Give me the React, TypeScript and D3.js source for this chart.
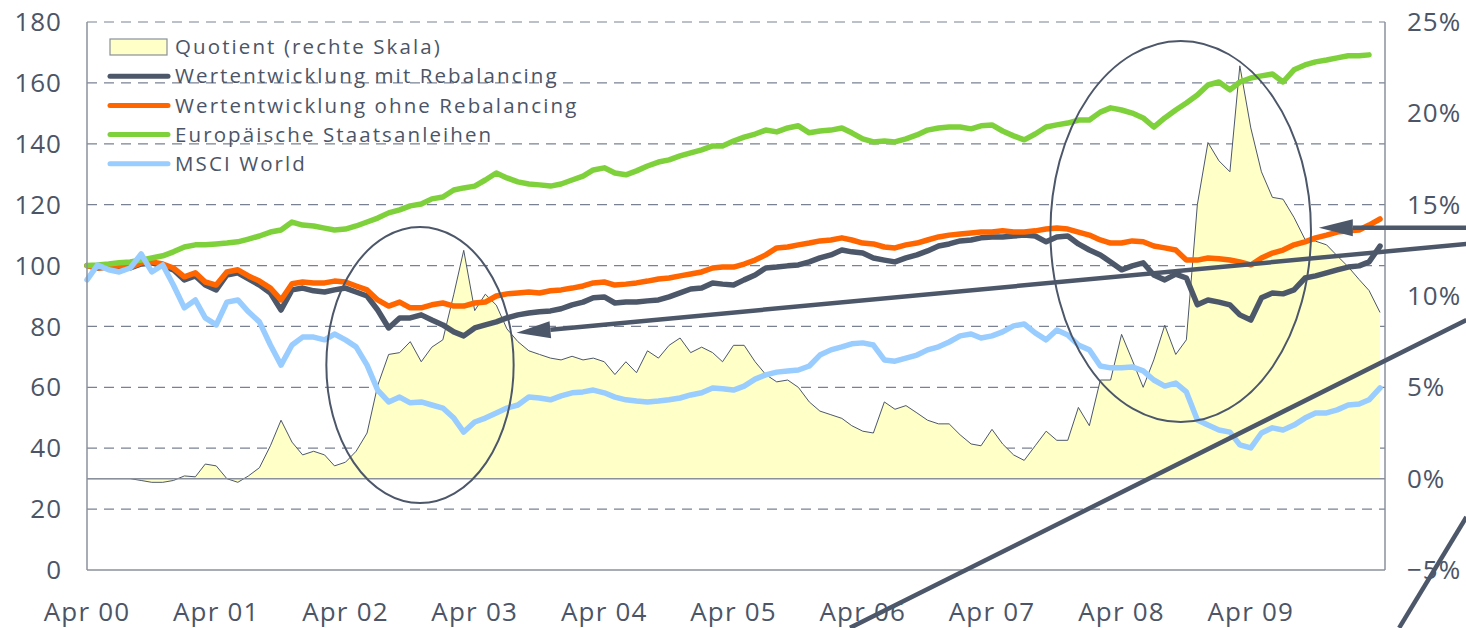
import React from "react";
import * as d3 from "d3";

// monthly observations, Apr 2000 .. Apr 2010
const months = d3.timeMonth.range(new Date(2000, 3, 1), new Date(2010, 4, 1));

const yearTicks = d3.range(2000, 2010).map((y) => new Date(y, 3, 1));
const yearLabels = ["Apr 00", "Apr 01", "Apr 02", "Apr 03", "Apr 04", "Apr 05", "Apr 06", "Apr 07", "Apr 08", "Apr 09"];
const leftTicks = [0, 20, 40, 60, 80, 100, 120, 140, 160, 180];
const rightTicks = [-5, 0, 5, 10, 15, 20, 25];

// Quotient (rechte Skala), in %
const quotient = [
  0.0, 0.0, 0.0, 0.0, 0.0, -0.1, -0.2, -0.2, -0.1, 0.15, 0.1, 0.8, 0.7, 0.0, -0.2, 0.15, 0.6, 1.8, 3.2, 2.0,
  1.3, 1.5, 1.3, 0.7, 0.9, 1.5, 2.5, 5.1, 6.8, 6.9, 7.5, 6.4, 7.2, 7.6, 10.1, 12.5, 9.2, 10.1, 9.5, 8.2,
  7.5, 7.0, 6.8, 6.6, 6.5, 6.7, 6.5, 6.6, 6.4, 5.7, 6.4, 5.8, 7.0, 6.6, 7.3, 7.7, 6.9, 7.2, 6.9, 6.4,
  7.3, 7.3, 6.4, 5.7, 5.3, 5.4, 5.0, 4.2, 3.7, 3.5, 3.3, 2.9, 2.6, 2.5, 4.2, 3.8, 4.0, 3.6, 3.2, 3.0,
  3.0, 2.4, 1.9, 1.8, 2.7, 1.9, 1.3, 1.0, 1.8, 2.6, 2.1, 2.1, 3.9, 2.9, 5.4, 5.4, 7.9, 6.5, 5.0, 6.5,
  8.4, 6.8, 7.6, 15.0, 18.4, 17.4, 16.8, 22.6, 19.2, 16.8, 15.4, 15.3, 14.3, 13.1, 13.0, 12.8, 12.2, 11.6, 10.9, 10.3,
  9.1,
];

// Wertentwicklung mit Rebalancing
const mitRebalancing = [
  100.0, 99.2, 99.5, 99.5, 99.2, 100.5, 100.9, 99.9, 98.6, 95.3, 96.6, 93.6, 92.0, 96.9, 97.6, 95.6, 93.6, 91.0, 85.4, 92.0,
  92.6, 91.7, 91.3, 92.0, 92.6, 91.3, 90.0, 85.4, 79.5, 82.8, 82.8, 83.8, 82.1, 80.5, 78.2, 76.9, 79.5, 80.5, 81.5, 82.8,
  83.8, 84.4, 84.8, 85.1, 85.8, 87.1, 88.0, 89.4, 89.7, 87.7, 88.0, 88.0, 88.4, 88.7, 89.7, 91.0, 92.3, 92.6, 94.3, 93.9,
  93.6, 95.3, 96.9, 99.2, 99.5, 99.9, 100.2, 101.2, 102.5, 103.5, 105.1, 104.5, 104.1, 102.5, 101.8, 101.2, 102.5, 103.5, 104.8, 106.4,
  107.1, 108.1, 108.4, 109.1, 109.4, 109.4, 109.7, 110.0, 109.7, 107.8, 109.4, 109.7, 107.1, 105.1, 103.5, 101.2, 98.6, 99.9, 100.9, 96.9,
  95.3, 97.2, 95.9, 87.1, 88.7, 88.0, 87.1, 83.8, 82.1, 89.4, 91.0, 90.7, 92.0, 95.9, 96.6, 97.6, 98.6, 99.5, 99.9, 101.2,
  106.4,
];

// Wertentwicklung ohne Rebalancing
const ohneRebalancing = [
  100.0, 99.2, 99.5, 99.9, 99.5, 100.9, 101.2, 100.5, 99.2, 96.3, 97.6, 94.6, 93.6, 97.9, 98.6, 96.6, 94.9, 92.6, 88.7, 94.0,
  94.6, 94.3, 94.3, 94.9, 94.6, 93.3, 92.0, 88.7, 86.7, 88.0, 86.1, 86.1, 87.1, 87.7, 86.7, 86.7, 87.7, 88.0, 90.0, 90.7,
  91.0, 91.3, 91.0, 91.7, 92.0, 92.6, 93.3, 94.3, 94.6, 93.6, 93.9, 94.3, 94.9, 95.6, 95.9, 96.6, 97.2, 97.9, 99.2, 99.5,
  99.5, 100.5, 101.8, 103.5, 105.8, 106.1, 106.8, 107.4, 108.1, 108.4, 109.1, 108.4, 107.4, 107.1, 106.1, 105.8, 106.8, 107.4, 108.4, 109.4,
  110.0, 110.4, 110.7, 111.0, 111.0, 111.4, 111.0, 111.0, 111.4, 112.0, 112.3, 112.0, 111.0, 110.0, 108.4, 107.4, 107.4, 108.1, 107.8, 106.4,
  105.8, 105.1, 101.8, 101.8, 102.5, 102.2, 101.8, 101.2, 100.2, 102.5, 104.1, 105.1, 106.8, 107.8, 109.1, 110.0, 111.0, 111.4, 111.7, 113.3,
  115.3,
];

// Europäische Staatsanleihen
const staatsanleihen = [
  100.0, 100.2, 100.5, 100.9, 101.2, 101.8, 102.5, 103.2, 104.5, 106.1, 106.8, 106.8, 107.1, 107.4, 107.8, 108.7, 109.7, 111.0, 111.7, 114.3,
  113.3, 113.0, 112.3, 111.7, 112.0, 113.0, 114.3, 115.6, 117.3, 118.3, 119.6, 120.2, 121.9, 122.5, 124.8, 125.5, 126.1, 128.1, 130.4, 128.8,
  127.5, 126.8, 126.5, 126.1, 126.8, 128.1, 129.4, 131.4, 132.1, 130.4, 129.8, 131.1, 132.7, 134.0, 134.7, 136.0, 137.0, 138.0, 139.3, 139.3,
  140.9, 142.2, 143.2, 144.5, 143.9, 145.2, 145.9, 143.6, 144.2, 144.5, 145.2, 143.6, 141.6, 140.6, 140.9, 140.6, 141.6, 142.9, 144.5, 145.2,
  145.5, 145.5, 144.9, 145.9, 146.2, 144.2, 142.6, 141.3, 143.2, 145.5, 146.2, 146.8, 147.8, 147.8, 150.4, 151.8, 151.1, 150.1, 148.5, 145.5,
  148.5, 151.1, 153.4, 156.0, 159.3, 160.3, 157.7, 160.3, 161.6, 162.3, 162.9, 160.3, 164.3, 165.9, 166.9, 167.5, 168.2, 168.9, 168.9, 169.2,
];

// MSCI World
const msciWorld = [
  95.3, 100.2, 98.6, 97.9, 99.2, 103.8, 97.9, 100.2, 93.6, 86.1, 88.7, 82.8, 80.5, 88.0, 88.7, 84.8, 81.5, 73.9, 67.3, 73.9,
  76.5, 76.5, 75.6, 77.5, 75.6, 73.3, 67.3, 59.1, 55.2, 56.8, 54.9, 55.2, 54.2, 53.2, 49.9, 45.3, 48.6, 49.9, 51.6, 53.2,
  54.2, 56.8, 56.5, 55.9, 57.2, 58.2, 58.5, 59.1, 58.2, 56.8, 55.9, 55.5, 55.2, 55.5, 55.9, 56.5, 57.5, 58.2, 59.8, 59.5,
  59.1, 60.4, 62.7, 64.1, 65.0, 65.4, 65.7, 67.0, 70.6, 72.3, 73.3, 74.3, 74.6, 73.9, 69.0, 68.6, 69.6, 70.6, 72.3, 73.3,
  74.9, 76.9, 77.5, 76.2, 76.9, 78.2, 80.2, 80.8, 77.9, 75.6, 78.8, 77.2, 73.9, 72.3, 67.0, 66.4, 66.4, 66.7, 65.4, 62.4,
  60.4, 61.4, 58.5, 49.3, 47.6, 46.0, 45.3, 41.1, 40.1, 45.0, 46.7, 46.0, 47.6, 49.9, 51.6, 51.6, 52.6, 54.2, 54.5, 55.9,
  59.8,
];

const legendNames = [
  "Quotient (rechte Skala)",
  "Wertentwicklung mit Rebalancing",
  "Wertentwicklung ohne Rebalancing",
  "Europäische Staatsanleihen",
  "MSCI World",
];

// hand-drawn annotations, given in chart units (date, left-axis value)
const ellipses = [
  { from: "2002-02-06", to: "2003-07-20", top: 112.7, bottom: 22.0 },
  { from: "2007-09-13", to: "2009-09-18", top: 173.8, bottom: 48.6 },
];
const arrows = [
  { from: ["2010-12-01", 112.4], to: ["2009-10-10", 112.4], head: true },
  { from: ["2010-12-01", 107.1], to: ["2003-07-28", 77.9], head: true },
  { from: ["2010-12-01", 82.1], to: ["2006-02-24", -19.0], head: false },
  { from: ["2010-12-01", 17.4], to: ["2010-05-25", -19.0], head: false },
];

const W = 1466;
const H = 628;
const margin = { top: 22, right: 81, bottom: 58, left: 87 };
const FONT = "'Open Sans', 'DejaVu Sans', sans-serif";
const TEXT = "#4b5567";
const INK = "#4d576a";

const App: React.FC = () => {
  const x = d3
    .scaleTime()
    .domain([new Date(2000, 3, 1), new Date(2010, 3, 15)])
    .range([margin.left, W - margin.right]);
  const y = d3.scaleLinear().domain([0, 180]).range([H - margin.bottom, margin.top]);
  const yR = d3.scaleLinear().domain([-5, 25]).range([H - margin.bottom, margin.top]);

  const area = d3
    .area<number>()
    .x((_, i) => x(months[i]))
    .y0(yR(0))
    .y1((d) => yR(d));
  const qLine = d3
    .line<number>()
    .x((_, i) => x(months[i]))
    .y((d) => yR(d));
  const line = d3
    .line<number>()
    .x((_, i) => x(months[i]))
    .y((d) => y(d));

  const series = [
    { data: mitRebalancing, color: "#4d576a" },
    { data: ohneRebalancing, color: "#ff6600" },
    { data: staatsanleihen, color: "#7fd13b" },
    { data: msciWorld, color: "#99ccff" },
  ];

  const pt = (p: (string | number)[]) => [x(new Date(p[0] as string)), y(p[1] as number)];

  const x0 = margin.left;
  const x1 = W - margin.right;

  return (
    <svg width={W} height={H} style={{ position: "absolute", left: 0, top: 0, background: "#fff" }}>
      {/* gridlines */}
      {leftTicks.slice(1).map((t) => (
        <line key={t} x1={x0} x2={x1} y1={y(t)} y2={y(t)} stroke="#7a8192" strokeWidth={1.2} strokeDasharray="10,7" />
      ))}

      {/* quotient area */}
      <path d={area(quotient) || ""} fill="#ffffc8" />
      <path d={qLine(quotient) || ""} fill="none" stroke={INK} strokeWidth={1} />
      <line x1={x0} x2={x1} y1={yR(0)} y2={yR(0)} stroke="#8a909c" strokeWidth={1.5} />

      {/* series lines */}
      {series.map((s, i) => (
        <path
          key={i}
          d={line(s.data) || ""}
          fill="none"
          stroke={s.color}
          strokeWidth={5.5}
          strokeLinejoin="round"
          strokeLinecap="round"
        />
      ))}

      {/* axes frame */}
      <line x1={x0} x2={x0} y1={y(180)} y2={y(0)} stroke="#8a909c" strokeWidth={1.5} />
      <line x1={x1} x2={x1} y1={y(180)} y2={y(0)} stroke="#8a909c" strokeWidth={1.5} />
      <line x1={x0} x2={x1} y1={y(0)} y2={y(0)} stroke="#8a909c" strokeWidth={1.5} />

      {/* left axis */}
      {leftTicks.map((t) => (
        <text key={t} x={62} y={y(t)} dy="0.35em" textAnchor="end" fontSize={26} fill={TEXT} fontFamily={FONT} letterSpacing={1}>
          {t}
        </text>
      ))}
      {/* right axis */}
      {rightTicks.map((t) => (
        <text key={t} x={1407} y={yR(t)} dy="0.35em" textAnchor="start" fontSize={26} fill={TEXT} fontFamily={FONT} letterSpacing={1}>
          {t < 0 ? `\u2212${Math.abs(t)}%` : `${t}%`}
        </text>
      ))}
      {/* x axis */}
      {yearTicks.map((d, i) => (
        <text key={i} x={x(d)} y={621} textAnchor="middle" fontSize={26} fill={TEXT} fontFamily={FONT} letterSpacing={1.2}>
          {yearLabels[i]}
        </text>
      ))}

      {/* legend */}
      <g fontFamily={FONT} fontSize={20.5} fill={TEXT}>
        {legendNames.map((name, i) => {
          const ly = 47 + i * 29.2;
          return (
            <g key={name}>
              {i === 0 ? (
                <rect x={110} y={ly - 8} width={57} height={16} fill="#ffffc8" stroke="#8a909c" strokeWidth={1.2} />
              ) : (
                <line x1={110} x2={168} y1={ly} y2={ly} stroke={series[i - 1].color} strokeWidth={5} strokeLinecap="round" />
              )}
              <text x={175} y={ly} dy="0.35em" letterSpacing={2.1}>
                {name}
              </text>
            </g>
          );
        })}
      </g>

      {/* annotations */}
      {ellipses.map((e, i) => {
        const l = x(new Date(e.from));
        const r = x(new Date(e.to));
        const t = y(e.top);
        const b = y(e.bottom);
        return (
          <ellipse key={i} cx={(l + r) / 2} cy={(t + b) / 2} rx={(r - l) / 2} ry={(b - t) / 2} fill="none" stroke={INK} strokeWidth={2} />
        );
      })}
      {arrows.map((a, i) => {
        const [ax, ay] = pt(a.from);
        const [bx, by] = pt(a.to);
        const len = Math.hypot(bx - ax, by - ay);
        const ux = (bx - ax) / len;
        const uy = (by - ay) / len;
        const L = a.head ? 34 : 0;
        const hw = 8.5;
        const cx = bx - ux * L;
        const cy = by - uy * L;
        return (
          <g key={i}>
            <line x1={ax} y1={ay} x2={cx} y2={cy} stroke={INK} strokeWidth={4.5} />
            {a.head && (
              <polygon
                points={`${bx},${by} ${cx - uy * hw},${cy + ux * hw} ${cx + uy * hw},${cy - ux * hw}`}
                fill={INK}
              />
            )}
          </g>
        );
      })}
    </svg>
  );
};

export default App;
